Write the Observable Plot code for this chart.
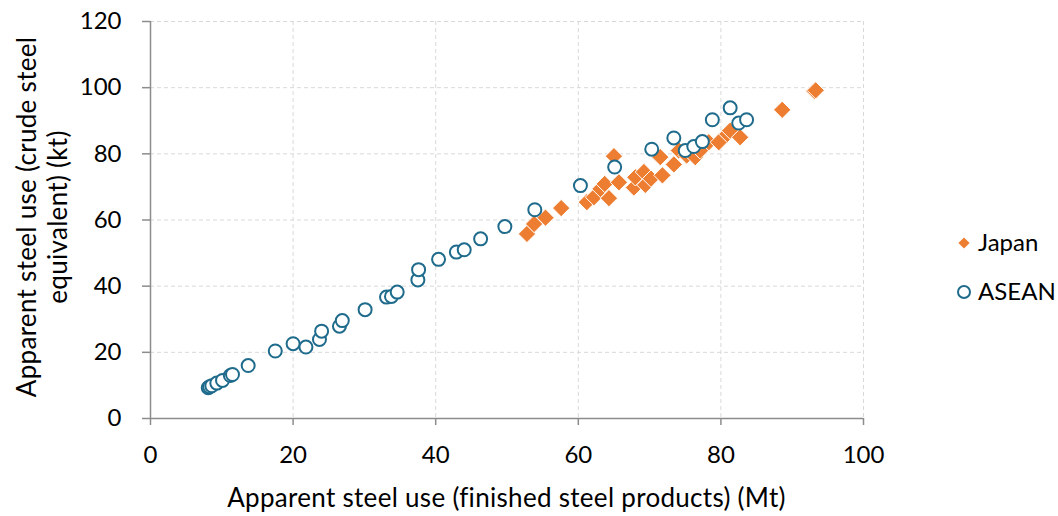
<!DOCTYPE html>
<html><head><meta charset="utf-8">
<script src="https://cdn.jsdelivr.net/npm/d3@7"></script>
<script src="https://cdn.jsdelivr.net/npm/@observablehq/plot@0.6"></script>
<style>
body{margin:0;background:#fff;font-family:Lato,"Open Sans",sans-serif}
#wrap{position:relative;width:1058px;height:516px;overflow:hidden}
#chart{position:absolute;left:0;top:0}
.t{position:absolute;color:#000;font-size:26px;letter-spacing:0.3px;white-space:nowrap}
#xt{left:100px;width:813px;top:480px;text-align:center;line-height:34px}
#yt{left:-168px;top:186px;width:420px;text-align:center;transform:rotate(-90deg);line-height:31px}
#legend{position:absolute;left:950px;top:228px}
</style></head><body><div id="wrap"><div id="chart"></div>
<div class="t" id="xt"></div><div class="t" id="yt"></div><div id="legend"></div></div>
<script>
const seriesNames = ["Japan", "ASEAN"];
const xTitle = "Apparent steel use (finished steel products) (Mt)";
const yTitle = ["Apparent steel use (crude steel", "equivalent) (kt)"];
const xTicks = [0, 20, 40, 60, 80, 100];
const yTicks = [0, 20, 40, 60, 80, 100, 120];

const japanX = [52.8,53.8,55.4,57.6,61.2,62.2,63.1,63.7,64.3,65.0,65.7,67.8,68.0,69.2,69.4,70.2,71.5,71.8,73.4,74.1,75.2,76.4,77.1,78.3,79.7,80.9,81.3,82.7,88.6,93.1,93.3];
const japanY = [55.8,58.8,60.7,63.6,65.4,66.9,69.4,70.9,66.6,79.3,71.4,69.8,72.9,74.5,70.6,72.5,79.0,73.5,76.8,81.0,79.5,79.0,81.0,83.5,83.5,86.0,87.0,85.0,93.3,99.0,99.2];

const aseanX = [8.1,8.3,8.6,9.3,10.1,11.2,11.5,13.7,17.5,20.0,21.8,23.7,24.0,26.5,26.9,30.1,33.1,33.8,34.6,37.5,37.6,40.4,42.9,44.0,46.3,49.7,53.9,60.3,65.1,70.3,73.4,75.0,76.2,77.4,78.8,81.3,82.5,83.6];
const aseanY = [9.3,9.6,9.9,10.7,11.5,13.0,13.3,16.0,20.4,22.6,21.6,23.9,26.4,27.9,29.6,32.9,36.7,36.9,38.2,41.9,45.0,48.1,50.3,51.0,54.3,58.0,63.1,70.4,76.0,81.4,84.8,81.0,82.2,83.7,90.3,93.9,89.3,90.3];

const colors = {Japan: "#ED7D31", ASEAN: "#1F6B8C"};

const japan = japanX.map((x, i) => ({x, y: japanY[i]}));
const asean = aseanX.map((x, i) => ({x, y: aseanY[i]}));

const grid = {stroke: "#d9d9d9", strokeOpacity: 1, strokeDasharray: "4,3", strokeWidth: 1};
const plot = Plot.plot({
  width: 900, height: 516,
  marginLeft: 150, marginRight: 37, marginTop: 21, marginBottom: 98,
  style: {fontFamily: "Lato, 'Open Sans', sans-serif", fontSize: "24px", color: "#000", background: "#fff"},
  x: {domain: [0, 100]},
  y: {domain: [0, 120]},
  marks: [
    Plot.gridX(xTicks.slice(1), grid),
    Plot.gridY(yTicks.slice(1), grid),
    Plot.ruleY([0], {stroke: "#8c8c8c", strokeWidth: 1.5}),
    Plot.ruleX([0], {stroke: "#8c8c8c", strokeWidth: 1.5}),
    Plot.axisX(xTicks, {tickSize: 7, tickPadding: 20, stroke: "#8c8c8c", strokeWidth: 1.5, fill: "#000", label: null, fontSize: 24}),
    Plot.axisY(yTicks, {tickSize: 8, tickPadding: 21, stroke: "#8c8c8c", strokeWidth: 1.5, fill: "#000", label: null, fontSize: 24}),
    Plot.dot(japan, {x: "x", y: "y", symbol: "diamond2", r: 7.8, fill: colors.Japan, stroke: "#fff", strokeWidth: 1}),
    Plot.dot(asean, {x: "x", y: "y", symbol: "circle", r: 6.5, fill: "#fff", stroke: colors.ASEAN, strokeWidth: 2})
  ]
});
document.getElementById("chart").appendChild(plot);
document.getElementById("xt").textContent = xTitle;
document.getElementById("yt").innerHTML = yTitle.join("<br>");

// legend
const lg = d3.select("#legend").append("svg").attr("width", 108).attr("height", 90)
  .style("font-family", "Lato, 'Open Sans', sans-serif").style("font-size", "24px");
const items = [
  {name: seriesNames[0], sym: d3.symbol(d3.symbolDiamond2, 80)},
  {name: seriesNames[1], sym: null}
];
items.forEach((it, i) => {
  const g = lg.append("g").attr("transform", `translate(14,${15 + i * 49})`);
  if (it.sym) g.append("path").attr("d", it.sym()).attr("fill", colors.Japan);
  else g.append("circle").attr("r", 6).attr("fill", "#fff").attr("stroke", colors.ASEAN).attr("stroke-width", 2);
  g.append("text").attr("x", 14).attr("dy", "0.35em").text(it.name);
});
</script>
</body></html>
